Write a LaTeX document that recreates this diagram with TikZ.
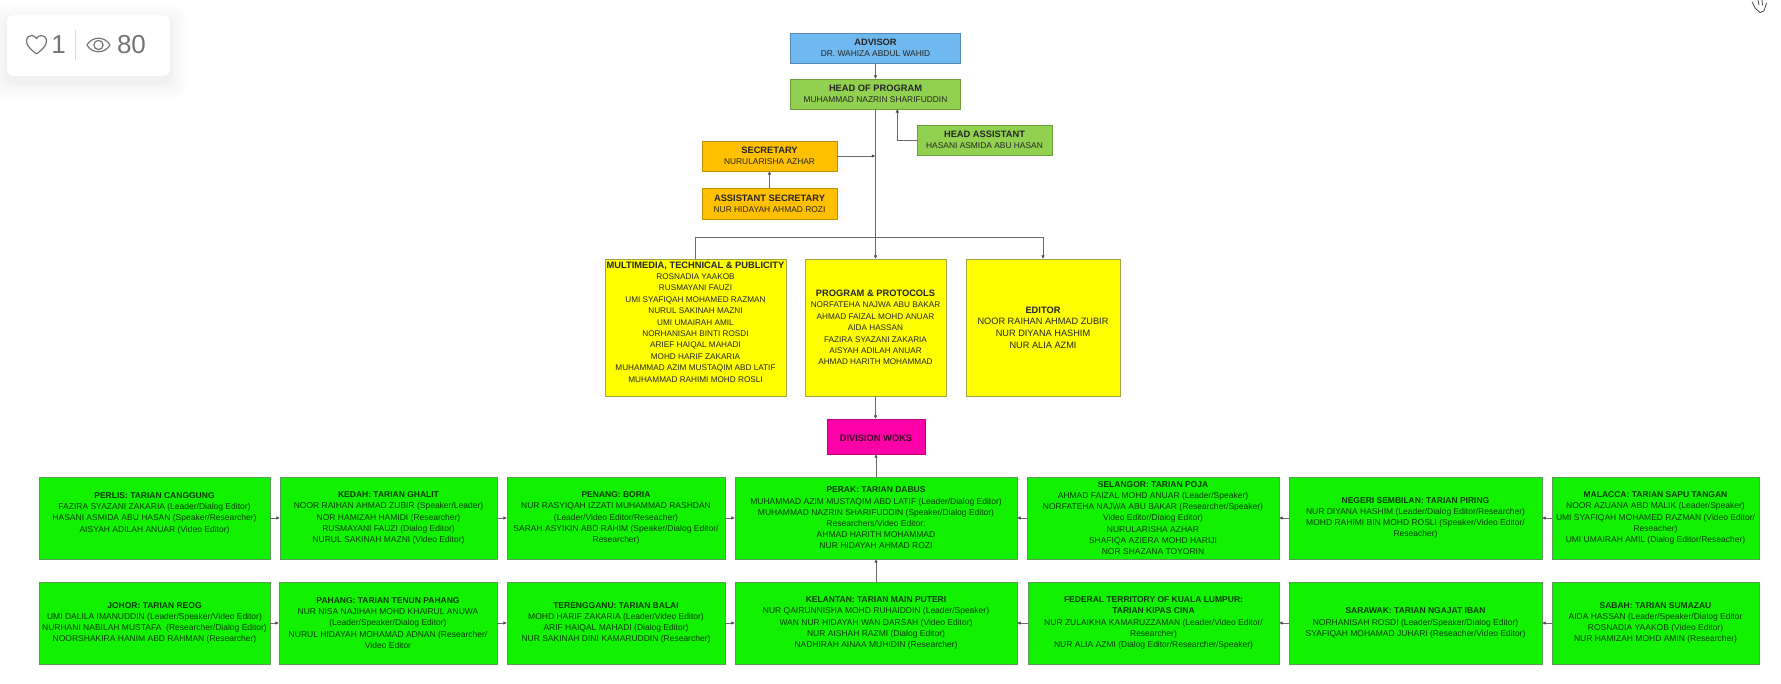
\documentclass[tikz,border=0pt]{standalone}
\usepackage{fontspec}
\setmainfont{Liberation Sans}
\usetikzlibrary{arrows.meta,calc}
\definecolor{cblue}{HTML}{70B8F0}
\definecolor{chead}{HTML}{92D050}
\definecolor{corange}{HTML}{FFC000}
\definecolor{cyellow}{HTML}{FFFF00}
\definecolor{cmag}{HTML}{FF00A8}
\definecolor{cgreen}{HTML}{12F200}
\definecolor{cgreenline}{HTML}{5C9A55}
\definecolor{cyelline}{HTML}{A3A34A}
\definecolor{cline}{HTML}{6A6A6A}
\definecolor{cicon}{HTML}{757575}
\tikzset{
  x=1pt,y=-1pt,
  org/.style={draw=#1!75!black,line width=0.9pt,inner sep=0pt,outer sep=0pt,align=center,
    font=\fontsize{8.4}{11.3}\selectfont,text=black!85,execute at begin node={\rule{0pt}{9.6pt}}},
  topbox/.style={org=#1,fill=#1},
  yel/.style={org=cyellow,fill=cyellow,draw=cyelline,font=\fontsize{8.2}{11.4}\selectfont,minimum height=137pt},
  grn/.style={org=cgreen,fill=cgreen,draw=cgreenline,minimum height=82pt,text=black!72!cgreen!90!black,font=\fontsize{8.5}{11.2}\selectfont},
  conn/.style={draw=cline,line width=0.9pt},
  arr/.style={conn,-{Latex[length=3.6pt,width=3.6pt,color=black!70]}},
}
\newcommand{\ttl}[1]{{\fontsize{9.3}{11.3}\selectfont\bfseries #1}}
\begin{document}
\begin{tikzpicture}
\useasboundingbox (0,0) rectangle (1781,683);
\fill[white] (0,0) rectangle (1781,683);
% views card
\foreach \g/\o in {16/0.006,13/0.007,10/0.008,7/0.01,4/0.012,2/0.012}{
  \fill[black,opacity=\o,rounded corners=10pt] (7-\g,15-\g+6) rectangle (170+\g,76+\g+6);
}
\node[draw=none,fill=white,rounded corners=7pt,minimum width=163pt,minimum height=61pt,inner sep=0pt,outer sep=0pt] (card) at (88.5,45.5) {};
\draw[cicon,line width=1.2pt,line join=round] (36.5,54) .. controls (31,49.5) and (26.5,46) .. (26.5,41) .. controls (26.5,37.5) and (29,35.5) .. (31.5,35.5) .. controls (33.5,35.5) and (35.5,36.5) .. (36.5,38.5) .. controls (37.5,36.5) and (39.5,35.5) .. (41.5,35.5) .. controls (44,35.5) and (46.5,37.5) .. (46.5,41) .. controls (46.5,46) and (42,49.5) .. (36.5,54) -- cycle;
\node[text=cicon,font=\fontsize{26}{26}\selectfont,inner sep=0pt] (likes) at (58.5,45) {1};
\draw[black!15,line width=0.6pt] (75,30) -- (75,60);
\draw[cicon,line width=1.2pt,line join=round] (87,45) .. controls (92,36) and (105,36) .. (110,45) .. controls (105,54) and (92,54) .. (87,45) -- cycle;
\draw[cicon,line width=1.2pt] (98.5,45) circle (4.6pt);
\node[text=cicon,font=\fontsize{26}{26}\selectfont,inner sep=0pt] (views) at (131.5,45) {80};
% cursor
\draw[black!80,line width=0.7pt,line cap=round,line join=round] (1752,2) -- (1755,8) -- (1760,12.5) -- (1764,11) -- (1766.5,3);
\draw[black!80,line width=0.7pt,line cap=round] (1758,0) -- (1759,5) (1762,0) -- (1762.5,5);
% top boxes
\node[topbox=cblue,minimum width=170pt,minimum height=30pt] (adv) at (875.5,48) {\ttl{ADVISOR}\\DR. WAHIZA ABDUL WAHID};
\node[topbox=chead,minimum width=170pt,minimum height=30pt] (head) at (875.5,94) {\ttl{HEAD OF PROGRAM}\\MUHAMMAD NAZRIN SHARIFUDDIN};
\node[topbox=chead,minimum width=135pt,minimum height=30pt] (ha) at (984.5,140) {\ttl{HEAD ASSISTANT}\\HASANI ASMIDA ABU HASAN};
\node[topbox=corange,minimum width=135pt,minimum height=30pt] (sec) at (769.5,156) {\ttl{SECRETARY}\\NURULARISHA AZHAR};
\node[topbox=corange,minimum width=135pt,minimum height=31pt] (asec) at (769.5,203.5) {\ttl{ASSISTANT SECRETARY}\\NUR HIDAYAH AHMAD ROZI};
% yellow
\node[yel,minimum width=181pt] (mm) at (695.5,327.5) {\ttl{MULTIMEDIA, TECHNICAL \& PUBLICITY}\\ROSNADIA YAAKOB\\RUSMAYANI FAUZI\\UMI SYAFIQAH MOHAMED RAZMAN\\NURUL SAKINAH MAZNI\\UMI UMAIRAH AMIL\\NORHANISAH BINTI ROSDI\\ARIEF HAIQAL MAHADI\\MOHD HARIF ZAKARIA\\MUHAMMAD AZIM MUSTAQIM ABD LATIF\\MUHAMMAD RAHIMI MOHD ROSLI\\~};
\node[yel,minimum width=141pt] (prog) at (875.5,327.5) {\ttl{PROGRAM \& PROTOCOLS}\\NORFATEHA NAJWA ABU BAKAR\\AHMAD FAIZAL MOHD ANUAR\\AIDA HASSAN\\FAZIRA SYAZANI ZAKARIA\\AISYAH ADILAH ANUAR\\AHMAD HARITH MOHAMMAD};
\node[yel,minimum width=154pt,font=\fontsize{9.2}{11.6}\selectfont] (ed) at (1043,327.5) {\ttl{EDITOR}\\NOOR RAIHAN AHMAD ZUBIR\\NUR DIYANA HASHIM\\NUR ALIA AZMI};
\node[topbox=cmag,minimum width=98pt,minimum height=35pt,text=black!75!cmag] (div) at (876,436.5) {\ttl{DIVISION WOKS}};
% row 1
\node[grn,minimum width=231pt] (perlis) at (154.5,518) {\textbf{PERLIS: TARIAN CANGGUNG}\\FAZIRA SYAZANI ZAKARIA (Leader/Dialog Editor)\\HASANI ASMIDA ABU HASAN (Speaker/Researcher)\\AISYAH ADILAH ANUAR (Video Editor)\\~};
\node[grn,minimum width=217pt] (kedah) at (388.5,518) {\textbf{KEDAH: TARIAN GHALIT}\\NOOR RAIHAN AHMAD ZUBIR (Speaker/Leader)\\NOR HAMIZAH HAMIDI (Researcher)\\RUSMAYANI FAUZI (Dialog Editor)\\NURUL SAKINAH MAZNI (Video Editor)};
\node[grn,minimum width=218pt] (penang) at (616,518) {\textbf{PENANG: BORIA}\\NUR RASYIQAH IZZATI MUHAMMAD RASHDAN\\(Leader/Video Editor/Reseacher)\\SARAH ASYIKIN ABD RAHIM (Speaker/Dialog Editor/\\Researcher)};
\node[grn,minimum width=282pt] (perak) at (876,518) {\textbf{PERAK: TARIAN DABUS}\\MUHAMMAD AZIM MUSTAQIM ABD LATIF (Leader/Dialog Editor)\\MUHAMMAD NAZRIN SHARIFUDDIN (Speaker/Dialog Editor)\\Researchers/Video Editor:\\AHMAD HARITH MOHAMMAD\\NUR HIDAYAH AHMAD ROZI};
\node[grn,minimum width=252pt] (sel) at (1153,518) {\textbf{SELANGOR: TARIAN POJA}\\AHMAD FAIZAL MOHD ANUAR (Leader/Speaker)\\NORFATEHA NAJWA ABU BAKAR (Researcher/Speaker)\\Video Editor/Dialog Editor)\\NURULARISHA AZHAR\\SHAFIQA AZIERA MOHD HARIJI\\NOR SHAZANA TOYORIN};
\node[grn,minimum width=253pt] (neg) at (1415.5,518) {\textbf{NEGERI SEMBILAN: TARIAN PIRING}\\NUR DIYANA HASHIM (Leader/Dialog Editor/Researcher)\\MOHD RAHIMI BIN MOHD ROSLI (Speaker/Video Editor/\\Reseacher)};
\node[grn,minimum width=207pt] (mal) at (1655.5,518) {\textbf{MALACCA: TARIAN SAPU TANGAN}\\NOOR AZUANA ABD MALIK (Leader/Speaker)\\UMI SYAFIQAH MOHAMED RAZMAN (Video Editor/\\Reseacher)\\UMI UMAIRAH AMIL (Dialog Editor/Reseacher)};
% row 2
\node[grn,minimum width=231pt] (joh) at (154.5,623) {\textbf{JOHOR: TARIAN REOG}\\UMI DALILA IMANUDDIN (Leader/Speaker/Video Editor)\\NURHANI NABILAH MUSTAFA\ \ (Researcher/Dialog Editor)\\NOORSHAKIRA HANIM ABD RAHMAN (Researcher)};
\node[grn,minimum width=218pt] (pah) at (388,623) {\textbf{PAHANG: TARIAN TENUN PAHANG}\\NUR NISA NAJIHAH MOHD KHAIRUL ANUWA\\(Leader/Speaker/Dialog Editor)\\NURUL HIDAYAH MOHAMAD ADNAN (Researcher/\\Video Editor};
\node[grn,minimum width=218pt] (ter) at (616,623) {\textbf{TERENGGANU: TARIAN BALAI}\\MOHD HARIF ZAKARIA (Leader/Video Editor)\\ARIF HAIQAL MAHADI (Dialog Editor)\\NUR SAKINAH DINI KAMARUDDIN (Researcher)};
\node[grn,minimum width=282pt] (kel) at (876,623) {\textbf{KELANTAN: TARIAN MAIN PUTERI}\\NUR QAIRUNNISHA MOHD RUHAIDDIN (Leader/Speaker)\\WAN NUR HIDAYAH WAN DARSAH (Video Editor)\\NUR AISHAH RAZMI (Dialog Editor)\\NADHIRAH AINAA MUHIDIN (Researcher)};
\node[grn,minimum width=251pt] (ft) at (1153.5,623) {\textbf{FEDERAL TERRITORY OF KUALA LUMPUR:}\\\textbf{TARIAN KIPAS CINA}\\NUR ZULAIKHA KAMARUZZAMAN (Leader/Video Editor/\\Researcher)\\NUR ALIA AZMI (Dialog Editor/Researcher/Speaker)};
\node[grn,minimum width=253pt] (sar) at (1415.5,623) {\textbf{SARAWAK: TARIAN NGAJAT IBAN}\\NORHANISAH ROSDI (Leader/Speaker/Dialog Editor)\\SYAFIQAH MOHAMAD JUHARI (Reseacher/Video Editor)};
\node[grn,minimum width=207pt] (sab) at (1655.5,623) {\textbf{SABAH: TARIAN SUMAZAU}\\AIDA HASSAN (Leader/Speaker/Dialog Editor\\ROSNADIA YAAKOB (Video Editor)\\NUR HAMIZAH MOHD AMIN (Researcher)};
% connectors
\coordinate (bar) at (875.5,237);
\coordinate (secjoin) at (875.5,156);
\coordinate (hajoin) at (897.3,109);
\draw[arr] (adv.south) -- (head.north);
\draw[arr] (ha.west) -| (hajoin);
\draw[arr] (sec.east) -- (secjoin);
\draw[arr] (asec.north) -- (sec.south);
\draw[arr] (head.south) -- (prog.north);
\draw[conn] (mm.north) |- (bar);
\draw[arr] (bar) -| (ed.north);
\draw[arr] (prog.south) -- (prog.south |- div.north);
\draw[arr] (perak.north) -- (perak.north |- div.south);
\draw[arr] (kel.north) -- (perak.south);
\foreach \a/\b in {perlis/kedah,kedah/penang,penang/perak,joh/pah,pah/ter,ter/kel}{\draw[arr] (\a.east) -- (\b.west);}
\foreach \a/\b in {sel/perak,neg/sel,mal/neg,ft/kel,sar/ft,sab/sar}{\draw[arr] (\a.west) -- (\b.east);}
\end{tikzpicture}
\end{document}
